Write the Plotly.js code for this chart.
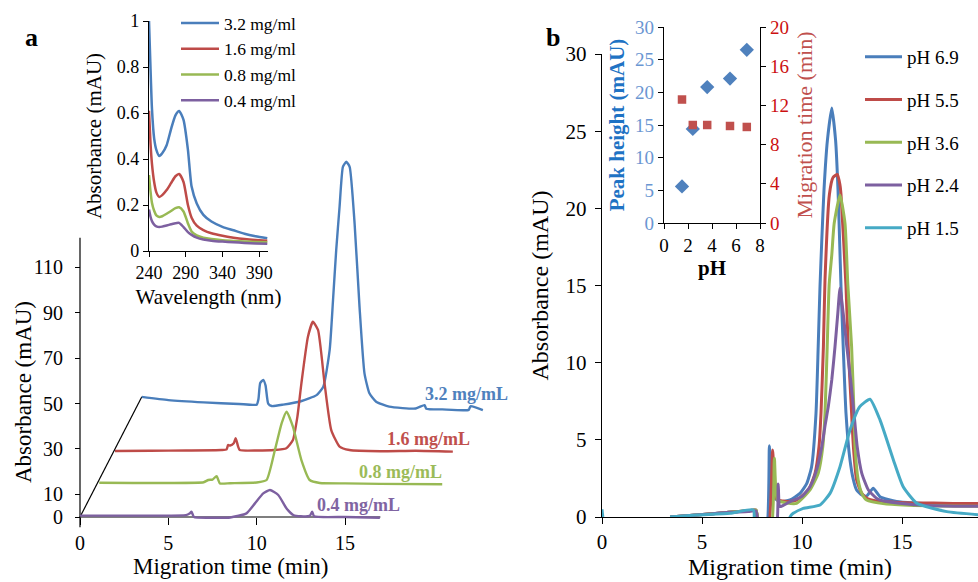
<!DOCTYPE html>
<html><head><meta charset="utf-8">
<script src="https://cdn.plot.ly/plotly-3.0.1.min.js"></script>
<style>html,body{margin:0;padding:0;background:#fff}#chart{width:978px;height:582px}</style>
</head><body><div id="chart"></div>
<script>
// ---------- Panel a, inset: UV spectra ----------
const wavelength = [240, 242, 244, 247, 250, 254, 258, 264, 270, 276, 281, 287, 293, 298, 305, 314, 325, 340, 355, 370, 385, 401];
const uv32 = [1.0, 0.80, 0.62, 0.49, 0.44, 0.413, 0.425, 0.46, 0.53, 0.59, 0.609, 0.57, 0.44, 0.28, 0.207, 0.157, 0.128, 0.105, 0.09, 0.075, 0.064, 0.055];
const uv16 = [0.61, 0.47, 0.38, 0.30, 0.255, 0.235, 0.243, 0.265, 0.295, 0.325, 0.335, 0.30, 0.20, 0.145, 0.11, 0.091, 0.077, 0.066, 0.058, 0.052, 0.048, 0.045];
const uv08 = [0.33, 0.26, 0.21, 0.175, 0.155, 0.148, 0.151, 0.162, 0.174, 0.186, 0.19, 0.172, 0.12, 0.085, 0.068, 0.058, 0.052, 0.047, 0.044, 0.041, 0.039, 0.038];
const uv04 = [0.18, 0.15, 0.13, 0.115, 0.107, 0.104, 0.106, 0.111, 0.116, 0.121, 0.122, 0.104, 0.082, 0.07, 0.058, 0.05, 0.045, 0.041, 0.038, 0.035, 0.033, 0.032];
const uvLabels = ['3.2 mg/ml', '1.6 mg/ml', '0.8 mg/ml', '0.4 mg/ml'];

// ---------- Panel a, main: stacked electropherograms (as drawn, with offsets) ----------
const a32Time = [3.5, 5, 7, 9, 10.0, 10.1, 10.2, 10.37, 10.5, 10.65, 10.85, 11.5, 12.5, 13.39, 13.77, 14.13, 14.32, 14.5, 14.69, 14.88, 15.07, 15.26, 15.54, 15.82, 16.1, 16.38, 16.76, 17.5, 19, 19.5, 19.6, 20.5, 22, 22.1, 22.8];
const a32Abs  = [52.9, 51.5, 50.5, 49.8, 49.5, 52, 59, 60.4, 58, 50, 48.9, 49.5, 51, 53.7, 57.4, 73.6, 95.6, 117.6, 136.7, 154.3, 156.5, 154.3, 129.4, 92.6, 63.3, 54.5, 50.8, 48.6, 47.8, 49.3, 47.7, 47.4, 47.2, 48.8, 47.1];
const a16Time = [1.98, 4, 6, 8.0, 8.3, 8.38, 8.5, 8.7, 8.81, 8.95, 9.04, 10, 11, 11.68, 12.05, 12.3, 12.53, 12.9, 13.18, 13.47, 13.84, 14.22, 14.69, 15.25, 17, 19, 21.1];
const a16Abs  = [29.1, 29.2, 29.3, 29.5, 29.8, 31.7, 31.5, 32.5, 34.7, 31, 29.5, 29.3, 29.5, 30.3, 33.9, 44, 58.9, 79.4, 86, 82.4, 58.9, 38.3, 31, 29.5, 29.0, 29.2, 28.8];
const a08Time = [1.09, 3, 5, 7.0, 7.26, 7.5, 7.73, 7.92, 8.5, 10, 10.56, 11.03, 11.41, 11.69, 12.05, 12.53, 13.0, 13.57, 15, 17, 20.5];
const a08Abs  = [15.1, 15.0, 15.0, 15.3, 16.3, 16.5, 18.0, 14.8, 14.9, 15.2, 16.3, 29.5, 41.3, 46.4, 39.8, 25.1, 16.3, 15.0, 14.8, 14.6, 14.4];
const a04Time = [0, 2, 4, 6, 6.2, 6.31, 6.45, 7.5, 8.5, 9.42, 9.9, 10.37, 10.75, 11.22, 11.69, 12.07, 12.5, 13.0, 13.14, 13.25, 15, 16.97];
const a04Abs  = [0.6, 0.6, 0.6, 0.8, 1.5, 2.3, 0, -0.3, -0.2, 1.6, 6.0, 10.4, 11.9, 9.7, 3.8, 0.9, 0.3, 0.5, 2.3, 0.3, 0.0, -0.3];
const aSeriesLabels = ['3.2 mg/mL', '1.6 mg/mL', '0.8 mg/mL', '0.4 mg/mL'];
// frame lines of the pseudo-3D plot
const depthTime = [0, 3.5], depthAbs = [0, 53];
const baseTime = [0, 17], baseAbs = [0, 0];
const yLineTime = [0, 0], yLineAbs = [-4.5, 123];
const aXTicks = [0, 5, 10, 15];
const aYTicks = [0, 10, 30, 50, 70, 90, 110];

// ---------- Panel b, main: pH series ----------
const bLabels = ['pH 6.9', 'pH 5.5', 'pH 3.6', 'pH 2.4', 'pH 1.5'];
const ph69Time = [3.41, 4.39, 5.36, 6.34, 7.31, 7.65, 7.80, 8.2, 8.37, 8.48, 8.56, 8.9, 9.4, 9.9, 10.24, 10.48, 10.7, 10.81, 10.9, 10.99, 11.1, 11.27, 11.49, 11.68, 11.8, 11.88, 11.95, 12.06, 12.2, 12.4, 12.57, 12.73, 12.99, 13.23, 13.56, 13.9, 14.73, 15.6, 16.58, 17.55, 18.82];
const ph69Abs  = [0.0, 0.1, 0.2, 0.3, 0.4, 0.45, -1, -1, 4.62, 2.4, 1.3, 1.0, 1.1, 1.53, 2.18, 3.26, 6.72, 11.04, 14.93, 17.95, 21.2, 24.4, 26.5, 24.4, 21.2, 17.95, 14.93, 11.04, 6.72, 3.69, 2.4, 1.75, 1.43, 1.36, 1.86, 1.32, 1.0, 0.9, 0.85, 0.8, 0.8];
const ph55Time = [3.41, 4.39, 5.36, 6.34, 7.31, 7.70, 7.90, 8.29, 8.53, 8.65, 8.78, 9.26, 9.73, 10.32, 10.65, 10.85, 10.95, 11.07, 11.15, 11.37, 11.55, 11.77, 11.9, 11.95, 12.2, 12.31, 12.48, 12.57, 12.73, 12.99, 13.26, 13.65, 14.63, 15.6, 16.58, 17.55, 18.82];
const ph55Abs  = [0, 0.1, 0.2, 0.3, 0.4, 0.45, -1, -1, 4.34, 1.53, 1.1, 1.0, 1.1, 1.75, 2.83, 4.56, 6.72, 11.04, 15.36, 20.9, 22.0, 22.2, 21.5, 20.9, 14.93, 11.04, 6.72, 4.56, 2.4, 1.53, 1.2, 1.05, 0.95, 0.9, 0.9, 0.88, 0.88];
const ph36Time = [3.41, 4.39, 5.36, 6.34, 7.31, 7.70, 7.90, 8.43, 8.62, 8.77, 9.26, 9.73, 10.4, 10.81, 11.04, 11.15, 11.26, 11.36, 11.49, 11.61, 11.9, 12.15, 12.29, 12.48, 12.6, 12.65, 12.81, 12.99, 13.23, 14.14, 15.6, 17.06, 18.82];
const ph36Abs  = [0, 0.1, 0.2, 0.3, 0.4, 0.45, -1, -1, 3.8, 1.1, 0.9, 0.88, 1.75, 2.83, 4.56, 6.72, 11.04, 15.1, 17.0, 19.03, 20.87, 19.03, 15.1, 11.04, 6.72, 4.56, 2.4, 1.53, 1.1, 0.85, 0.75, 0.72, 0.7];
const ph24Time = [3.41, 4.39, 5.36, 6.34, 7.31, 7.70, 7.90, 8.68, 8.81, 8.9, 9.4, 9.98, 10.4, 10.73, 10.99, 11.15, 11.32, 11.49, 11.65, 11.79, 11.9, 12.06, 12.24, 12.43, 12.6, 12.76, 12.99, 13.32, 13.74, 14.24, 15.6, 17.06, 18.82];
const ph24Abs  = [0, 0.1, 0.2, 0.3, 0.35, 0.4, -1, -1, 2.14, 0.67, 1.0, 1.32, 1.96, 3.05, 4.56, 5.9, 7.2, 8.9, 11.04, 13.2, 14.82, 13.2, 11.04, 8.9, 6.72, 4.56, 2.83, 1.75, 1.2, 1.0, 0.8, 0.72, 0.7];
const ph15Time = [0, 0.04, null, 3.4, 4.74, 6.4, 7.57, 7.65, 9.36, 9.4, 9.56, 10.06, 10.9, 11.4, 11.9, 12.4, 12.89, 13.4, 13.9, 14.57, 15.06, 15.74, 17.24, 18.82];
const ph15Abs  = [0.5, 0, null, 0, 0.13, 0.24, 0.45, -1, -1, 0, 0.24, 0.56, 0.78, 1.53, 3.26, 5.64, 7.15, 7.63, 6.29, 3.7, 1.96, 0.89, 0.35, 0.15];
const bXTicks = [0, 5, 10, 15];

// ---------- Panel b, inset: peak height & migration time vs pH ----------
const phValues = [1.5, 2.4, 3.6, 5.5, 6.9];
const peakHeight = [5.6, 14.4, 20.8, 22.1, 26.5];
const migrationTime = [12.6, 10.0, 10.0, 9.9, 9.8];

// ---------- styling ----------
const W = 978, H = 582;
const px = v => v / W, py = v => 1 - v / H;
const FONT = '"Liberation Serif", "Times New Roman", serif';
const COL = ['#4A7EBB', '#BE4B48', '#98B954', '#7D60A0', '#46AAC5'];
const LABCOL = ['#4F81BD', '#C0504D', '#9BBB59', '#8064A2'];

const traces = [];
// inset a
[uv32, uv16, uv08, uv04].forEach((ys, i) => traces.push({
  x: wavelength, y: ys, xaxis: 'x2', yaxis: 'y2', type: 'scatter', mode: 'lines',
  name: uvLabels[i], line: {color: COL[i], width: 2.5, shape: 'spline', smoothing: 0.6},
  legend: 'legend', showlegend: true
}));
// main a frame lines
[[depthTime, depthAbs], [baseTime, baseAbs], [yLineTime, yLineAbs]].forEach(p => traces.push({
  x: p[0], y: p[1], xaxis: 'x', yaxis: 'y', type: 'scatter', mode: 'lines',
  line: {color: '#000', width: 1.2}, showlegend: false, hoverinfo: 'skip'
}));
// main a series
[[a32Time, a32Abs], [a16Time, a16Abs], [a08Time, a08Abs], [a04Time, a04Abs]].forEach((p, i) => traces.push({
  x: p[0], y: p[1], xaxis: 'x', yaxis: 'y', type: 'scatter', mode: 'lines',
  name: aSeriesLabels[i], line: {color: COL[i], width: 2.4, shape: 'spline', smoothing: 0.5}, showlegend: false
}));
// main b series
[[ph69Time, ph69Abs], [ph55Time, ph55Abs], [ph36Time, ph36Abs], [ph24Time, ph24Abs], [ph15Time, ph15Abs]].forEach((p, i) => traces.push({
  x: p[0], y: p[1], xaxis: 'x3', yaxis: 'y3', type: 'scatter', mode: 'lines',
  name: bLabels[i], line: {color: COL[i], width: 3, shape: 'spline', smoothing: 0.5},
  legend: 'legend2', legendgroup: 'g' + i, showlegend: true, connectgaps: false
}));
// inset b
traces.push({x: phValues, y: peakHeight, xaxis: 'x4', yaxis: 'y4', type: 'scatter', mode: 'markers',
  name: 'Peak height', marker: {symbol: 'diamond', size: 11, color: '#4F81BD'}, showlegend: false});
traces.push({x: phValues, y: migrationTime, xaxis: 'x4', yaxis: 'y5', type: 'scatter', mode: 'markers',
  name: 'Migration time', marker: {symbol: 'square', size: 8.5, color: '#C0504D'}, showlegend: false});

const base = {showgrid: false, zeroline: false, ticks: 'outside', tickcolor: '#000', linecolor: '#000', linewidth: 1.2,
  tickfont: {family: FONT, size: 20, color: '#000'}};

const aLabelY = [394, 439, 472, 505], aLabelX = [423, 385, 357, 315];
const ann = (text, x, y, font, extra) => Object.assign({text, x: px(x), y: py(y), xref: 'paper', yref: 'paper',
  xanchor: 'center', yanchor: 'middle', showarrow: false, font}, extra || {});
const annotations = [
  ann('a', 31, 37, {family: FONT, size: 26, color: '#000', weight: 'bold'}),
  ann('b', 553, 37, {family: FONT, size: 26, color: '#000', weight: 'bold'}),
  ann('Absorbance (mAU)', 23, 392, {family: FONT, size: 23, color: '#000'}, {textangle: -90}),
  ann('Migration time (min)', 230, 566, {family: FONT, size: 23, color: '#000'})
];
aSeriesLabels.forEach((t, i) => annotations.push(
  ann(t, aLabelX[i], aLabelY[i], {family: FONT, size: 18, color: LABCOL[i], weight: 'bold'}, {xanchor: 'left'})
));

const layout = {
  width: W, height: H, margin: {l: 0, r: 0, t: 0, b: 0},
  paper_bgcolor: '#fff', plot_bgcolor: 'rgba(0,0,0,0)',
  font: {family: FONT, color: '#000'},
  showlegend: true,
  // panel a main
  xaxis: Object.assign({}, base, {domain: [px(74.7), px(486.4)], range: [-0.3, 23], anchor: 'free', position: py(517),
    showline: false, tickvals: aXTicks, ticklen: 7, ticklabelstandoff: 1}),
  yaxis: Object.assign({}, base, {domain: [py(528.35), py(149.3)], range: [-5, 162], anchor: 'free', position: px(80),
    showline: false, tickvals: aYTicks, ticklen: 5, ticklabelstandoff: 8}),
  // panel a inset
  xaxis2: Object.assign({}, base, {domain: [px(149), px(268)], range: [240, 402], anchor: 'y2', showline: true,
    tickvals: [240, 290, 340, 390], ticklen: 5, tickfont: {family: FONT, size: 18, color: '#000'},
    title: {text: 'Wavelength (nm)', font: {family: FONT, size: 21, color: '#000'}, standoff: 7}}),
  yaxis2: Object.assign({}, base, {domain: [py(251), py(21)], range: [0, 1], anchor: 'x2', showline: true,
    tickvals: [0, 0.2, 0.4, 0.6, 0.8, 1], ticklen: 5, tickfont: {family: FONT, size: 18, color: '#000'},
    title: {text: 'Absorbance (mAU)', font: {family: FONT, size: 21, color: '#000'}, standoff: 9}}),
  // panel b main
  xaxis3: Object.assign({}, base, {domain: [px(602), 1], range: [0, 18.8], anchor: 'y3', showline: true,
    tickvals: bXTicks, ticklen: 6, tickfont: {family: FONT, size: 21, color: '#000'},
    title: {text: 'Migration time (min)', font: {family: FONT, size: 24, color: '#000'}, standoff: 4}}),
  yaxis3: Object.assign({}, base, {domain: [py(517), py(54)], range: [0, 30], anchor: 'x3', showline: true,
    dtick: 5, ticklen: 6, ticklabelstandoff: 4, tickfont: {family: FONT, size: 21, color: '#000'},
    title: {text: 'Absorbance (mAU)', font: {family: FONT, size: 24, color: '#000'}, standoff: 10}}),
  // panel b inset
  xaxis4: Object.assign({}, base, {domain: [px(664), px(760)], range: [0, 8], anchor: 'y4', showline: true,
    dtick: 2, ticklen: 5, tickfont: {family: FONT, size: 19, color: '#000'},
    title: {text: 'pH', font: {family: FONT, size: 21, color: '#000', weight: 'bold'}, standoff: 2}}),
  yaxis4: Object.assign({}, base, {domain: [py(223), py(27)], range: [0, 30], anchor: 'x4', showline: true,
    dtick: 5, ticklen: 5, tickfont: {family: FONT, size: 19, color: '#6A96D2'},
    title: {text: 'Peak height (mAU)', font: {family: FONT, size: 21, color: '#1F73C4', weight: 'bold'}, standoff: 4}}),
  yaxis5: Object.assign({}, base, {range: [0, 20], anchor: 'x4', overlaying: 'y4', side: 'right', showline: true,
    dtick: 4, ticklen: 5, tickfont: {family: FONT, size: 19, color: '#CC1010'},
    title: {text: 'Migration time (min)', font: {family: FONT, size: 22, color: '#C0504D'}, standoff: 8}}),
  legend: {x: px(176), y: py(5), xanchor: 'left', yanchor: 'top', bgcolor: 'rgba(0,0,0,0)', borderwidth: 0,
    font: {family: FONT, size: 17.5, color: '#000'}, itemwidth: 38, tracegroupgap: 0},
  legend2: {x: px(860), y: py(38), xanchor: 'left', yanchor: 'top', bgcolor: 'rgba(0,0,0,0)', borderwidth: 0,
    font: {family: FONT, size: 19, color: '#000'}, itemwidth: 37, tracegroupgap: 15},
  annotations: annotations
};

Plotly.newPlot('chart', traces, layout, {displayModeBar: false, staticPlot: true});
</script></body></html>
